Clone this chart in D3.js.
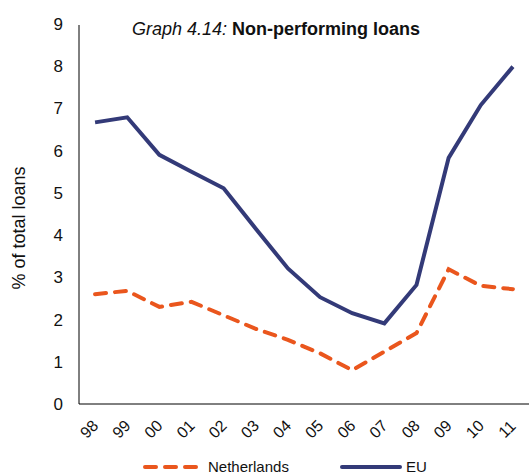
<!DOCTYPE html>
<html>
<head>
<meta charset="utf-8">
<script src="https://cdn.jsdelivr.net/npm/d3@7"></script>
<style>
  html, body { margin: 0; padding: 0; background: #fff; }
  svg { display: block; font-family: "Liberation Sans", Arial, sans-serif; }
</style>
</head>
<body>
<svg id="chart" width="529" height="475"></svg>
<script>
// Non-performing loans, % of total loans
const years = ["98", "99", "00", "01", "02", "03", "04", "05", "06", "07", "08", "09", "10", "11"];
const netherlands = [2.60, 2.68, 2.30, 2.42, 2.10, 1.78, 1.52, 1.20, 0.80, 1.24, 1.68, 3.19, 2.80, 2.72];
const eu = [6.67, 6.79, 5.90, 5.50, 5.11, 4.15, 3.21, 2.53, 2.15, 1.91, 2.82, 5.83, 7.08, 7.99];
const yTicks = [0, 1, 2, 3, 4, 5, 6, 7, 8, 9];

const svg = d3.select("#chart");
const plotLeft = 79, plotRight = 529, plotTop = 24, plotBottom = 404;

const x = d3.scaleBand().domain(years).range([plotLeft, plotRight]);
const y = d3.scaleLinear().domain([0, 9]).range([plotBottom, plotTop]);

// Axes
const yAxis = svg.append("g")
  .attr("transform", `translate(${plotLeft},0)`)
  .call(d3.axisLeft(y).tickValues(yTicks).tickSize(0).tickPadding(16));
yAxis.select(".domain").attr("d", `M0,${plotBottom}V${plotTop + 1}`).attr("stroke", "#000");
yAxis.selectAll("text").attr("font-size", 17).attr("fill", "#111")
  .attr("font-family", "Liberation Sans, Arial, sans-serif");

const xAxis = svg.append("g")
  .attr("transform", `translate(0,${plotBottom})`)
  .call(d3.axisBottom(x).tickSize(0).tickPadding(0));
xAxis.select(".domain").attr("d", `M${plotLeft},0H${plotRight}`).attr("stroke", "#000");
xAxis.selectAll("text")
  .attr("font-size", 16).attr("fill", "#111")
  .attr("font-family", "Liberation Sans, Arial, sans-serif")
  .attr("text-anchor", "middle")
  .attr("dy", "0.35em")
  .attr("y", 0)
  .attr("transform", "translate(-6,25) rotate(-45)");

// Y axis title
svg.append("text")
  .attr("transform", "translate(25,228) rotate(-90)")
  .attr("text-anchor", "middle")
  .attr("font-size", 18).attr("fill", "#111")
  .text("% of total loans");

// Title
const title = svg.append("text")
  .attr("x", 132).attr("y", 35)
  .attr("font-size", 18).attr("fill", "#111");
title.append("tspan").attr("font-style", "italic").text("Graph 4.14: ");
title.append("tspan").attr("font-weight", "bold").text("Non-performing loans");

// Lines
const cx = d => x(d) + x.bandwidth() / 2;
const line = d3.line().x((d, i) => cx(years[i])).y(d => y(d));

svg.append("path").datum(eu)
  .attr("d", line).attr("fill", "none")
  .attr("stroke", "#333a78").attr("stroke-width", 4)
  .attr("stroke-linejoin", "miter");

svg.append("path").datum(netherlands)
  .attr("d", line).attr("fill", "none")
  .attr("stroke", "#ea561d").attr("stroke-width", 4)
  .attr("stroke-dasharray", "11,9").attr("stroke-linecap", "round");

// Legend
const legend = svg.append("g").attr("font-size", 15).attr("fill", "#111");
legend.append("line")
  .attr("x1", 145).attr("x2", 202).attr("y1", 467).attr("y2", 467)
  .attr("stroke", "#ea561d").attr("stroke-width", 4)
  .attr("stroke-dasharray", "11,9").attr("stroke-linecap", "round");
legend.append("text").attr("x", 208).attr("y", 472).text("Netherlands");
legend.append("line")
  .attr("x1", 342).attr("x2", 400).attr("y1", 467).attr("y2", 467)
  .attr("stroke", "#333a78").attr("stroke-width", 4).attr("stroke-linecap", "round");
legend.append("text").attr("x", 406).attr("y", 472).text("EU");
</script>
</body>
</html>
